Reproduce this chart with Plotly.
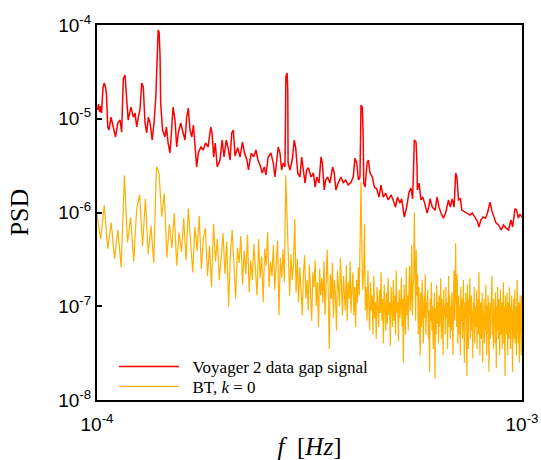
import numpy as np
import plotly.graph_objects as go

# Scale factors for the stored numbers
FREQ_UNIT = 1e-4      # voyager_freq is in units of 1e-4 Hz
VOYAGER_UNIT = 1e-6   # voyager_psd is in units of 1e-6
BT_UNIT = 1e-7        # bt_psd is in units of 1e-7

# Voyager 2 data gap signal: smoothed PSD
voyager_freq = [
    1.003, 1.008, 1.014, 1.019, 1.025, 1.033, 1.040, 1.047, 1.053, 1.060,
    1.067, 1.079, 1.092, 1.106, 1.119, 1.133, 1.143, 1.148, 1.153, 1.164,
    1.170, 1.174, 1.184, 1.202, 1.218, 1.229, 1.240, 1.251, 1.262, 1.274,
    1.285, 1.297, 1.309, 1.321, 1.333, 1.349, 1.364, 1.376, 1.381, 1.387,
    1.393, 1.400, 1.407, 1.412, 1.426, 1.445, 1.457, 1.470, 1.485, 1.498,
    1.510, 1.526, 1.540, 1.553, 1.574, 1.595, 1.611, 1.626, 1.640, 1.655,
    1.671, 1.686, 1.701, 1.716, 1.731, 1.756, 1.778, 1.801, 1.826, 1.852,
    1.865, 1.882, 1.898, 1.918, 1.947, 1.970, 1.990, 2.014, 2.032, 2.056,
    2.075, 2.093, 2.113, 2.143, 2.171, 2.199, 2.224, 2.253, 2.272, 2.306,
    2.336, 2.366, 2.392, 2.418, 2.448, 2.475, 2.497, 2.528, 2.565, 2.599,
    2.622, 2.646, 2.669, 2.695, 2.719, 2.743, 2.768, 2.778, 2.782, 2.801,
    2.811, 2.816, 2.845, 2.880, 2.911, 2.933, 2.967, 3.003, 3.031, 3.059,
    3.087, 3.115, 3.143, 3.189, 3.230, 3.260, 3.289, 3.330, 3.365, 3.390,
    3.425, 3.451, 3.488, 3.533, 3.584, 3.615, 3.648, 3.693, 3.750, 3.797,
    3.846, 3.900, 3.959, 4.008, 4.046, 4.084, 4.122, 4.157, 4.169, 4.180,
    4.210, 4.226, 4.243, 4.274, 4.320, 4.351, 4.389, 4.445, 4.493, 4.552,
    4.608, 4.658, 4.716, 4.777, 4.846, 4.917, 4.977, 5.040, 5.093, 5.163,
    5.210, 5.285, 5.353, 5.422, 5.480, 5.530, 5.555, 5.580, 5.632, 5.663,
    5.672, 5.724, 5.785, 5.837, 5.902, 5.981, 6.034, 6.074, 6.151, 6.245,
    6.312, 6.379, 6.448, 6.529, 6.612, 6.716, 6.782, 6.851, 6.921, 6.946,
    6.982, 7.029, 7.072, 7.090, 7.166, 7.216, 7.320, 7.426, 7.544, 7.640,
    7.739, 7.863, 7.918, 8.003, 8.102, 8.205, 8.294, 8.408, 8.487, 8.582,
    8.677, 8.803, 8.934, 9.048, 9.167, 9.297, 9.423, 9.505, 9.630, 9.715,
    9.800, 9.892, 10.0,
]
voyager_psd = [
    12.4, 14.3, 11.8, 13.6, 11.5, 21.3, 24.1, 21.8, 17.9, 8.17,
    7.59, 10.4, 8.17, 6.39, 9.01, 9.70, 7.2, 20.3, 26.6, 29.3,
    20.3, 13.3, 9.70, 13.3, 10.4, 11.5, 8.17, 10.4, 12.4, 24.1,
    21.8, 9.01, 7.05, 10.4, 9.01, 5.93, 9.70, 17.9, 33.1, 69.2,
    88.4, 84.2, 47.9, 14.7, 7.59, 6.39, 8.17, 5.51, 4.31, 7.59,
    13.3, 9.70, 5.00, 7.05, 9.01, 7.05, 5.93, 10.4, 13.0, 7.59,
    6.39, 8.58, 5.00, 3.06, 4.31, 5.00, 4.64, 5.51, 5.00, 8.17,
    7.05, 3.91, 5.51, 3.06, 3.63, 5.93, 3.91, 5.93, 5.00, 3.63,
    7.05, 7.59, 4.0, 4.9, 3.91, 5.65, 4.31, 3.63, 2.84, 4.31,
    3.91, 4.64, 3.63, 3.21, 2.64, 3.06, 2.51, 3.91, 4.31, 3.37,
    2.39, 3.37, 5.00, 4.31, 2.84, 3.37, 3.06, 12.4, 27.9, 30.8,
    20.3, 3.37, 2.84, 3.63, 5.93, 5.00, 2.64, 2.39, 3.91, 2.84,
    2.06, 2.84, 3.0, 2.39, 2.64, 1.87, 2.39, 2.06, 3.91, 3.37,
    1.74, 2.22, 2.39, 2.06, 3.06, 2.64, 1.74, 2.06, 2.39, 2.06,
    2.22, 1.96, 2.1, 2.39, 3.8, 3.37, 2.22, 2.39, 5.93, 14.0,
    13.3, 7.59, 2.06, 1.87, 3.37, 3.63, 2.64, 2.39, 1.87, 1.79,
    1.46, 1.96, 1.46, 1.61, 1.36, 1.54, 1.36, 1.14, 1.46, 1.26,
    1.40, 0.895, 1.14, 1.65, 1.82, 1.40, 2.84, 5.93, 5.65, 3.21,
    1.74, 2.06, 1.36, 1.46, 1.26, 0.988, 1.14, 1.40, 1.14, 1.06,
    1.46, 1.14, 0.988, 0.87, 0.988, 1.36, 1.14, 1.40, 1.14, 1.96,
    2.64, 2.39, 1.54, 1.36, 1.40, 1.06, 1.02, 0.988, 0.940, 0.988,
    0.895, 0.792, 0.700, 0.832, 0.895, 0.87, 0.988, 1.29, 1.06, 0.895,
    0.78, 0.736, 0.651, 0.736, 0.68, 0.651, 0.832, 0.700, 1.10, 1.06,
    0.87, 0.96, 0.895,
]

# BT reconstruction (k = 0) on a uniform frequency grid
bt_freq_start = 1.0e-4
bt_freq_step = 2.0e-6
bt_psd = [
    9.5, 5.2, 12.0, 4.1, 7.8, 3.2, 6.5, 2.6, 25.0, 4.8,
    8.9, 3.0, 11.0, 15.5, 4.4, 14.0, 3.6, 7.2, 2.9, 31.0,
    26.0, 9.0, 16.0, 3.3, 7.5, 4.2, 9.8, 2.7, 6.1, 3.8,
    8.7, 3.1, 11.0, 4.6, 2.3, 7.0, 3.9, 9.2, 2.5, 5.4,
    6.8, 2.1, 4.4, 1.6, 7.6, 3.0, 5.2, 1.9, 3.8, 6.0,
    2.2, 4.9, 1.0, 3.6, 6.5, 2.4, 1.2, 4.2, 2.9, 5.6,
    1.7, 3.9, 2.2, 5.8, 1.4, 3.1, 1.9, 4.6, 2.6, 1.3,
    5.2, 2.0, 3.4, 1.1, 4.1, 2.7, 6.2, 1.6, 3.0, 2.1,
    4.5, 1.5, 2.8, 5.0, 0.8, 3.3, 2.0, 4.0, 1.8, 25.0,
    9.0, 2.4, 1.3, 3.6, 1.9, 2.9, 8.5, 1.4, 3.2, 1.1,
    2.6, 1.5, 0.8, 2.2, 3.5, 1.2, 1.9, 0.9, 2.8, 1.4,
    0.7, 2.3, 1.6, 3.1, 1.0, 1.8, 0.6, 2.5, 1.3, 2.0,
    1.1, 3.0, 0.8, 1.7, 4.0, 1.4, 0.35, 2.2, 1.2, 2.9,
    0.75, 1.9, 1.3, 0.55, 2.4, 1.6, 1.0, 3.3, 1.2, 0.8,
    2.1, 1.4, 0.9, 2.7, 0.7, 1.8, 1.2, 3.0, 0.85, 1.5,
    2.3, 0.8, 1.6, 0.6, 1.9, 1.1, 2.6, 1.3, 8.0, 21.0,
    4.0, 1.5, 2.2, 7.5, 0.9, 1.6, 0.7, 2.4, 1.1, 0.55,
    1.8, 0.9, 1.3, 0.5, 2.1, 0.75, 1.1, 0.45, 1.6, 0.95,
    0.6, 1.5, 0.85, 2.3, 0.7, 1.2, 0.4, 1.7, 0.9, 0.55,
    1.4, 0.65, 2.0, 0.8, 1.1, 0.38, 1.6, 0.9, 0.6, 1.9,
    0.7, 1.3, 0.5, 2.4, 0.85, 1.1, 0.42, 1.5, 0.75, 1.0,
    2.0, 0.6, 1.2, 0.25, 1.7, 0.9, 0.5, 2.6, 0.8, 1.3,
    0.55, 1.5, 2.7, 0.9, 1.2, 4.5, 0.8, 1.6, 2.0, 10.0,
    1.8, 0.7, 4.0, 1.3, 2.2, 0.5, 1.6, 0.9, 0.3, 1.4,
    0.6, 1.9, 1.0, 0.4, 1.3, 0.75, 2.2, 0.5, 1.1, 0.85,
    1.5, 0.45, 0.9, 0.2, 1.2, 0.7, 1.8, 0.55, 1.0, 0.35,
    0.8, 1.4, 0.17, 0.95, 0.5, 1.7, 0.65, 1.1, 0.4, 1.3,
    0.6, 0.9, 2.0, 0.45, 1.2, 0.7, 0.3, 1.5, 0.8, 1.0,
    0.5, 1.6, 0.75, 1.1, 0.35, 0.9, 2.1, 0.6, 1.3, 0.45,
    1.0, 0.55, 1.4, 0.8, 0.3, 1.2, 2.4, 0.7, 1.7, 4.7,
    1.1, 0.6, 2.2, 0.4, 0.9, 1.3, 0.5, 1.0, 0.3, 1.6,
    0.7, 1.2, 0.45, 0.85, 1.9, 0.55, 0.25, 1.1, 0.75, 1.4,
    0.5, 0.18, 1.7, 0.6, 0.35, 1.2, 0.8, 2.0, 0.45, 0.7,
    1.3, 0.55, 0.9, 0.28, 1.1, 0.65, 1.6, 0.4, 0.85, 1.0,
    0.6, 1.5, 0.35, 0.8, 1.2, 0.5, 2.3, 0.7, 0.3, 0.95,
    1.1, 0.45, 0.75, 1.4, 0.25, 0.9, 0.6, 1.2, 0.4, 0.8,
    0.55, 1.7, 0.65, 0.3, 1.0, 0.5, 1.3, 0.85, 0.2, 0.7,
    1.1, 0.45, 0.9, 0.6, 1.5, 2.1, 0.5, 0.8, 0.35, 1.2,
    0.6, 0.95, 0.4, 1.4, 0.7, 0.22, 1.0, 0.55, 1.6, 0.75,
    0.45, 1.2, 0.8, 0.3, 0.9, 1.5, 0.5, 0.7, 1.1, 0.35,
    0.85, 0.6, 1.8, 0.4, 1.0, 0.55, 0.18, 1.3, 0.7, 0.95,
    0.5, 1.4, 0.65, 0.3, 1.1, 0.8, 0.45, 1.6, 0.6, 0.9,
    0.35, 1.0, 0.7, 1.3, 0.5, 0.2, 0.9, 0.6, 1.2, 0.45,
    0.8, 1.5, 0.4, 0.7, 1.0, 0.3, 0.6, 1.9, 0.5, 0.85,
    0.4, 1.1, 0.65, 0.25, 0.9, 1.3, 0.5, 0.75, 0.3, 1.3,
    1.2,
]

# Axis ticks
x_tick_vals = [1e-4, 1e-3]
x_tick_text = ["10<sup>-4</sup>", "10<sup>-3</sup>"]
y_tick_vals = [1e-8, 1e-7, 1e-6, 1e-5, 1e-4]
y_tick_text = ["10<sup>-8</sup>", "10<sup>-7</sup>", "10<sup>-6</sup>",
               "10<sup>-5</sup>", "10<sup>-4</sup>"]

v_f = np.array(voyager_freq) * FREQ_UNIT
v_p = np.array(voyager_psd) * VOYAGER_UNIT
bt_p = np.array(bt_psd) * BT_UNIT
bt_f = bt_freq_start + bt_freq_step * np.arange(len(bt_p))

SERIF = "Liberation Serif, Times New Roman, serif"
SANS = "Liberation Sans, Arial, sans-serif"
GAP = "&nbsp;&nbsp;"  # extra room between legend line and its label

fig = go.Figure()
fig.add_trace(go.Scatter(
    x=v_f, y=v_p, mode="lines", name=GAP + "Voyager 2 data gap signal",
    line=dict(color="#ff0000", width=1.5), legend="legend",
))
fig.add_trace(go.Scatter(
    x=bt_f, y=bt_p, mode="lines", name=GAP + "BT, <i>k</i> = 0",
    line=dict(color="#ffb000", width=1.2), legend="legend2",
))

axis_common = dict(
    type="log", showgrid=False, zeroline=False, automargin=False,
    showline=True, linecolor="black", linewidth=2, mirror=True,
    ticks="inside", ticklen=5, tickwidth=2, tickcolor="black",
    tickmode="array",
    tickfont=dict(family=SANS, size=19, color="black"),
)

fig.update_xaxes(
    **axis_common, range=[-4, -3], ticklabelstandoff=6,
    tickvals=x_tick_vals, ticktext=x_tick_text,
    title=dict(text="<i>f</i>  [<i>Hz</i>]", standoff=29,
               font=dict(family=SERIF, size=25, color="black")),
)
fig.update_yaxes(
    **axis_common, range=[-8, -4],
    tickvals=y_tick_vals, ticktext=y_tick_text,
    title=dict(text="PSD", standoff=22,
               font=dict(family=SERIF, size=26, color="black")),
)

legend_style = dict(
    xanchor="left", yanchor="middle",
    bgcolor="rgba(0,0,0,0)", borderwidth=0,
    font=dict(family=SERIF, size=17, color="black"),
    itemwidth=60,
)

fig.update_layout(
    width=541, height=460,
    margin=dict(l=97, r=19, t=25, b=60),
    paper_bgcolor="white", plot_bgcolor="white",
    showlegend=True,
    legend=dict(x=0.04, y=0.088, **legend_style),
    legend2=dict(x=0.04, y=0.035, **legend_style),
)

fig.write_html("out.html")
